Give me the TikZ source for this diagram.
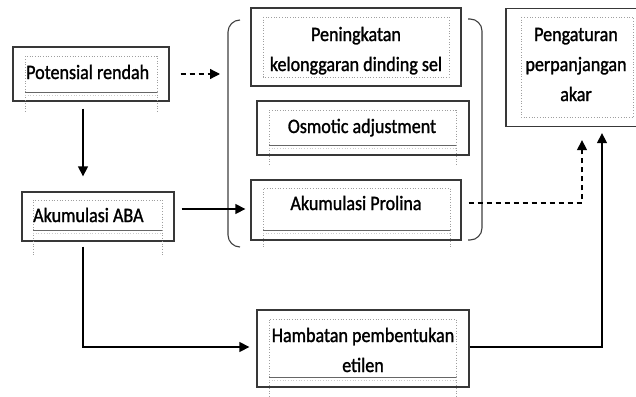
\documentclass[tikz,border=0pt]{standalone}
\usepackage{fontspec}
\setmainfont{Carlito}[FakeBold=1.3, FakeStretch=0.88]
\usetikzlibrary{arrows.meta}
\newcommand{\ibx}[5]{% x1 y1 x2 y2 extend-to (solid bottom)
  \draw[idot] (#1,#4) -- (#1,#2) -- (#3,#2) -- (#3,#4);
  \draw[idot] (#1,#4) -- (#1,#5) (#3,#4) -- (#3,#5);
  \draw[idot,draw=gray!40] (#1,#4+3) -- (#3,#4+3);
  \draw[isolid] (#1,#4) -- (#3,#4);}
\newcommand{\ibxd}[4]{% fully dotted
  \draw[idot] (#1,#2) rectangle (#3,#4);}
\begin{document}
\begin{tikzpicture}[x=1pt,y=-1pt,
  obox/.style={draw=black!78, line width=1.3pt, inner sep=0pt},
  idot/.style={draw=gray!75, dotted, line width=0.7pt},
  isolid/.style={draw=black!60, line width=1pt},
  txt/.style={font=\fontsize{20.5}{30}\selectfont, inner sep=0pt, align=center},
  conn/.style={draw=black, line width=1.3pt},
  arr/.style={conn, -{Triangle[length=10pt,width=10pt]}},
  darr/.style={arr, dash pattern=on 5pt off 4pt},
  paren/.style={draw=black!75, line width=1.1pt, rounded corners=12pt}]
\useasboundingbox (0,0) rectangle (636,396);
\fill[white] (0,0) rectangle (636,396);

% outer boxes
\node[obox, minimum width=156pt, minimum height=54pt] (pot) at (91,74) {};
\node[obox, minimum width=152pt, minimum height=49pt] (aba) at (98,216.5) {};
\node[obox, minimum width=210pt, minimum height=78pt] (pen) at (356,47) {};
\node[obox, minimum width=212pt, minimum height=54pt] (osm) at (363,128) {};
\node[obox, minimum width=210pt, minimum height=60pt] (pro) at (356,210) {};
\node[obox, minimum width=132pt, minimum height=118pt] (pga) at (572,67.5) {};
\node[obox, minimum width=212pt, minimum height=77pt] (hmb) at (363,348.5) {};

% inner text frames
\ibx{25}{56}{157}{92}{112}
\ibx{33}{200}{162}{230}{255}
\ibxd{263}{17}{449}{77}
\ibx{269}{110}{456}{145}{165}
\ibx{263}{188}{450}{230}{247}
\ibxd{521}{17}{633.5}{117}
\ibx{269}{319}{456}{377}{398}

% texts (anchor base = baseline of last line)
\node[txt, anchor=base west] (potT) at (26,79) {Potensial rendah};
\node[txt, anchor=base west] (abaT) at (33,222) {Akumulasi ABA};
\node[txt, anchor=base] (penT) at (356,71) {Peningkatan\\kelonggaran dinding sel};
\node[txt, anchor=base] (osmT) at (362,133) {Osmotic adjustment};
\node[txt, anchor=base] (proT) at (356,210) {Akumulasi Prolina};
\node[txt, anchor=base] (pgaT) at (576,101) {Pengaturan\\perpanjangan\\akar};
\node[txt, anchor=base] (hmbT) at (363,372) {Hambatan pembentukan\\etilen};

% brackets
\draw[paren] (240,20) -- (228,20) -- (228,247) -- (240,247);
\draw[paren] (468,19) -- (482,19) -- (482,240) -- (468,240);

% connectors
\coordinate (c1) at (220,74);
\draw[darr, shorten <=11pt] (pot.east) -- (c1);
\draw[arr] ([shift={(-8,7)}]pot.south) -- ([shift={(-15,-15)}]aba.north);
\draw[arr] ([shift={(7,-7.5)}]aba.east) -- ([shift={(-5,-1)}]pro.west);
\draw[arr] ([shift={(-15,5)}]aba.south) |- ([shift={(-7,-1.5)}]hmb.west);
\draw[darr] ([shift={(7,-7)}]pro.east) -| ([shift={(10,13)}]pga.south);
\draw[arr] ([shift={(0,-1.5)}]hmb.east) -| ([shift={(30,6)}]pga.south);
\end{tikzpicture}
\end{document}
